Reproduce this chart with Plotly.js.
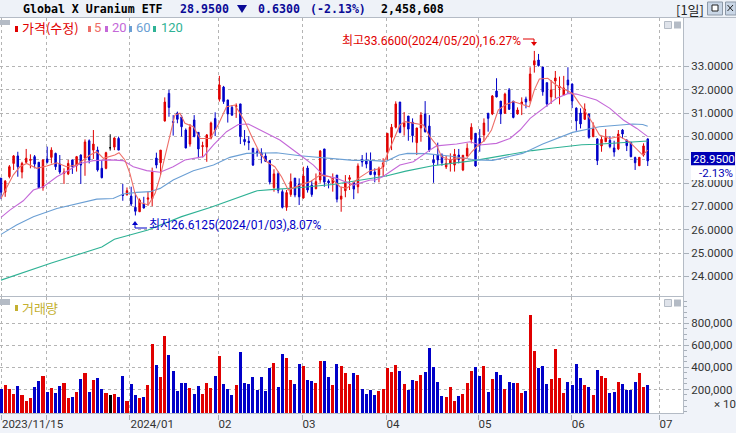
<!DOCTYPE html>
<html><head><meta charset="utf-8">
<script src="https://cdn.plot.ly/plotly-3.0.1.min.js"></script>
<style>html,body{margin:0;padding:0;background:#f0f3f9;overflow:hidden}#c{width:736px;height:433px}</style>
</head><body><div id="c"></div>
<script>
const open_=[28.21,27.61,28.27,28.84,29.16,28.47,28.89,28.97,29.13,28.89,27.80,29.03,29.10,29.27,28.81,28.41,28.39,28.99,28.74,29.20,29.07,29.81,29.41,29.41,28.63,28.63,29.51,29.54,29.91,27.51,27.50,27.44,26.96,26.77,27.10,27.31,27.33,29.07,28.87,30.66,31.84,30.64,31.00,30.83,30.27,29.67,30.70,30.17,29.56,29.54,29.93,30.76,31.59,32.11,31.56,31.24,31.27,31.39,29.87,29.79,29.49,29.34,29.30,29.16,28.96,27.81,28.40,27.63,26.96,27.51,28.21,27.96,27.36,28.64,27.91,27.76,28.13,29.46,28.09,28.01,28.34,27.31,27.67,28.16,28.03,27.84,29.01,28.99,28.94,28.47,28.34,28.70,29.34,29.96,30.39,31.47,30.41,30.87,30.61,29.73,30.36,30.96,30.44,28.99,29.20,29.20,28.69,28.84,28.77,29.20,28.56,29.16,29.87,30.13,29.91,30.06,30.99,30.96,31.94,31.51,30.99,31.99,31.51,30.96,31.39,31.60,31.53,33.06,33.27,32.97,32.30,31.69,32.37,32.07,31.77,32.41,32.24,31.21,31.00,30.73,30.96,29.99,29.89,29.59,29.77,29.83,29.50,29.46,30.27,29.84,29.74,29.09,28.74,29.20,29.89];
const high=[28.21,28.13,28.77,29.20,29.34,28.91,29.46,29.23,29.20,28.89,29.01,29.56,29.53,29.30,29.20,28.63,28.99,28.99,29.16,29.23,29.87,29.87,30.27,29.56,28.99,29.34,30.09,29.96,29.99,27.96,27.81,27.84,27.56,27.34,27.41,27.63,28.66,29.30,29.41,31.67,31.99,30.91,31.06,30.91,30.34,30.53,30.91,30.17,29.77,30.10,30.63,31.03,32.59,32.16,31.56,31.34,31.41,31.39,30.27,30.01,29.49,29.49,29.49,29.30,28.99,28.59,28.49,27.73,27.70,28.41,28.21,28.20,28.70,28.74,28.10,28.41,29.41,29.46,28.16,28.41,28.34,27.84,28.34,28.34,28.03,28.84,29.20,29.30,29.31,28.63,28.70,29.06,30.13,30.53,31.50,31.47,31.04,30.87,30.77,30.36,31.04,31.51,30.91,29.24,29.73,29.27,29.16,29.27,29.46,29.46,29.20,29.70,30.56,30.13,30.31,30.77,30.99,31.77,32.49,31.51,31.87,32.07,31.51,31.24,31.67,31.70,32.96,33.66,33.53,32.97,32.30,32.41,32.80,32.56,32.59,32.96,32.27,31.24,31.20,31.41,30.96,30.60,29.91,29.99,30.31,30.01,29.81,30.27,30.31,29.87,29.77,29.13,29.10,29.70,29.91];
const low=[27.31,27.41,28.20,28.56,28.27,28.20,28.84,28.63,28.63,27.80,27.67,28.84,28.84,28.56,28.39,27.96,28.34,28.39,28.49,27.96,28.31,28.84,29.03,28.49,28.20,28.59,29.39,29.41,29.41,27.24,27.46,27.01,26.61,26.77,26.91,27.03,27.01,28.63,28.34,30.63,30.84,30.03,30.56,29.99,29.49,29.56,29.96,29.06,29.10,28.91,29.87,30.01,31.49,31.39,30.59,30.87,30.79,29.67,29.61,29.41,28.73,29.13,28.84,28.90,27.94,27.63,27.56,26.91,26.81,27.41,27.39,27.06,27.33,27.59,27.41,27.73,28.01,27.84,27.77,27.63,27.17,26.77,27.39,27.70,27.31,27.56,28.70,28.63,28.34,28.03,28.03,28.27,28.99,29.41,30.34,30.13,30.03,29.81,29.74,29.20,29.77,30.16,29.34,28.01,28.77,28.74,28.60,28.49,28.49,28.84,28.51,29.13,29.70,28.70,29.34,29.77,30.20,30.91,31.67,30.53,30.96,31.13,30.77,30.93,30.91,31.20,31.41,32.73,32.99,31.74,31.27,31.39,31.63,31.37,31.77,31.84,31.21,30.24,30.34,30.70,29.90,29.96,28.77,29.34,29.77,29.49,29.13,29.41,29.91,29.37,29.10,28.56,28.73,29.13,28.73];
const close_=[27.61,28.08,28.70,29.16,28.70,28.84,29.06,29.01,28.81,27.80,28.99,28.89,29.41,28.70,28.47,28.47,28.84,28.70,29.13,28.77,29.76,28.99,29.67,28.56,28.23,29.30,29.51,29.93,29.41,27.47,27.67,27.10,26.79,27.27,26.93,27.36,28.47,28.77,29.41,31.47,31.24,30.59,30.73,30.41,29.50,30.39,29.99,29.46,29.60,30.06,30.57,30.27,32.20,31.49,30.96,30.91,31.31,29.99,29.77,29.73,28.77,29.30,29.19,28.93,28.04,28.39,27.69,26.96,27.59,28.06,27.49,27.41,28.30,27.70,27.51,28.06,29.37,28.04,28.01,28.19,27.31,27.44,28.06,28.23,27.74,28.73,28.90,28.81,28.36,28.36,28.63,28.86,30.13,30.39,31.39,30.17,30.57,30.31,30.03,30.36,30.91,30.20,29.41,28.87,28.99,28.87,28.84,29.01,29.23,29.01,29.19,29.49,30.39,28.73,29.63,30.57,30.77,31.73,31.69,30.96,31.81,31.16,30.81,31.13,31.47,31.47,32.67,33.24,33.03,31.91,31.39,31.99,32.50,32.14,32.07,32.20,31.51,30.66,30.53,31.16,29.96,30.33,28.96,29.87,29.96,29.56,29.33,30.10,30.10,29.60,29.13,28.87,29.10,29.59,28.95];
const volume=[200,239,203,158,230,148,94,121,221,276,321,176,212,167,230,258,121,130,176,294,348,176,285,303,203,167,148,158,130,321,94,248,148,121,130,239,612,421,312,685,512,367,185,258,258,212,158,230,158,258,212,321,503,248,203,148,239,539,258,248,312,194,312,185,394,439,221,521,485,285,248,430,412,285,276,258,458,458,312,239,430,412,348,248,348,330,203,158,194,148,185,203,394,358,421,367,248,194,285,276,330,358,576,403,267,139,130,221,94,139,158,258,367,403,321,412,176,294,358,330,203,267,258,258,167,185,876,548,394,412,248,294,567,303,167,267,239,430,303,239,221,148,376,321,303,167,176,267,248,194,194,267,348,221,239];
const ma5X=[0,1.3,2.9,4.5,6.1,8.5,10.9,13.3,15.6,18,19.6,21.2,22.8,24.4,27.1,28.1,29.5,30.7,31.9,33.1,35.1,36.7,37.9,39,40.2,41.4,42.6,43.8,45.8,47.4,49.8,51.7,53.7,55.7,56.9,58.1,59.7,61.7,63.3,65.2,66.8,68.4,71.2,73.6,76,78.3,80.7,82.3,85.1,87.9,90.6,91.8,93.8,95,96.2,98.2,100.6,102.1,103.7,104.9,106.9,108.5,110.9,112.1,113.3,115.2,116.8,118.4,120,122,123.6,125.8,127,128.2,130.2,132.2,134.5,136.1,137.7,138.9,140.9,142.5,144.9,147.3,149.6,151.6,152.8,154];
const ma5Y=[27.34,27.77,28.34,28.70,28.84,28.63,28.73,28.87,28.70,28.77,28.99,29.20,29.34,29.06,29.20,29.30,28.99,28.41,27.56,27.16,27.06,27.56,28.27,29.13,29.99,30.91,30.99,30.56,30.41,29.91,29.91,30.49,31.27,31.34,30.99,30.63,29.99,29.27,28.91,28.70,28.27,27.70,27.91,28.06,28.34,28.27,27.84,27.77,28.20,28.53,28.63,29.13,29.99,30.49,30.63,30.56,30.49,29.99,29.63,29.13,28.99,29.06,29.06,29.34,29.56,29.84,30.27,31.13,31.34,31.49,31.41,31.27,31.99,32.46,32.49,32.20,31.99,31.84,31.41,31.13,30.56,30.06,29.91,29.99,29.77,29.41,29.20,29.41];
const ma20X=[0,2.1,5.3,7.7,10.1,13.3,15.6,18.8,22,26,29.1,31.5,34.7,37.9,41,43.8,48.2,50.6,53.7,56.5,58.9,63.3,66.4,71.2,74.4,76.7,79.9,83.9,87.9,89.1,90.9,95,98.2,102.1,103.7,108.5,111.7,114,118,121.2,123.6,126,129.1,132.3,135.1,137,141.8,145,148.2,151.4,154];
const ma20Y=[26.53,26.84,27.24,27.70,27.84,28.27,28.49,28.84,28.96,28.99,28.96,28.70,28.53,28.46,28.70,28.99,29.13,29.63,30.20,30.51,30.53,30.13,29.84,29.20,28.77,28.34,28.20,27.91,28.13,28.13,28.27,28.77,28.91,29.41,29.59,29.67,29.77,29.63,29.70,29.91,30.27,30.77,31.20,31.63,31.84,31.81,31.56,31.20,30.70,30.34,29.99];
const ma60X=[0,3.7,7.7,13.3,22.8,26.7,29.1,32.3,35.5,37.9,41,45.8,50.6,54.5,58.5,65.6,71.2,79.1,83.9,87.9,91.7,94.8,96.8,101.2,106.8,113.1,117.1,124.2,129,136.1,142.5,150.4,152.8,154];
const ma60Y=[25.80,26.20,26.56,26.91,27.31,27.34,27.53,27.60,27.63,27.77,28.13,28.53,28.77,29.10,29.27,29.30,29.17,29.06,28.97,28.97,28.93,29.20,29.27,29.26,29.16,28.99,28.97,29.27,29.67,30.17,30.41,30.53,30.51,30.43];
const ma120X=[0,12,24,27,35,43,50,55,61,65,70,79,87,91.7,96.4,102.8,113,120.2,126.5,131,138.3,142,154];
const ma120Y=[23.84,24.57,25.26,25.59,25.99,26.56,26.96,27.27,27.67,27.73,27.79,27.94,28.17,28.30,28.51,28.74,28.97,29.20,29.39,29.49,29.64,29.66,29.80];
const priceTicks=[24,25,26,27,28,29,30,31,32,33];
const priceLabels=["24.0000","25.0000","26.0000","27.0000","28.0000","","30.0000","31.0000","32.0000","33.0000"];
const volumeTicks=[200,400,600,800];
const monthPos=[0.1,10.9,30.7,51.7,71.7,91.7,113.6,135.8,156.7];
const monthLabels=["2023/11/15","","2024/01","02","03","04","05","06","07"];

const RED="#e00000",BLUE="#0000c8",BLACK="#000000";
const C5="#ee6e68",C20="#c468d8",C60="#6b9fd4",C120="#2fb295";
const W=736,H=433;
const px=x=>x/W, py=y=>1-y/H;
const TXT='Roboto,"Noto Sans CJK KR",sans-serif';
const xs=close_.map((_,i)=>i);
const barColor=close_.map((c,i)=>c>open_[i]?RED:(c<open_[i]?BLUE:BLACK));
const volBase=-18;
const isDoji=xs.filter(i=>close_[i]===open_[i]);
const notDoji=xs.filter(i=>close_[i]!==open_[i]);
const pick=(a,idx)=>idx.map(i=>a[i]);
const candle=(idx,inc,dec)=>({type:"candlestick",x:idx,open:pick(open_,idx),high:pick(high,idx),low:pick(low,idx),close:pick(close_,idx),
  xaxis:"x",yaxis:"y",whiskerwidth:0,hoverinfo:"skip",showlegend:false,
  increasing:{line:{color:inc,width:1},fillcolor:inc},decreasing:{line:{color:dec,width:1},fillcolor:dec}});
const line=(x,y,c)=>({type:"scatter",mode:"lines",x,y,xaxis:"x",yaxis:"y",line:{color:c,width:1.1},hoverinfo:"skip",showlegend:false});
const data=[
 candle(notDoji,RED,BLUE),
 candle(isDoji,BLACK,BLACK),
 line(ma120X,ma120Y,C120),line(ma60X,ma60Y,C60),line(ma20X,ma20Y,C20),line(ma5X,ma5Y,C5),
 {type:"bar",x:xs,y:volume.map(v=>v-volBase),base:volBase,width:0.72,xaxis:"x2",yaxis:"y2",marker:{color:barColor,line:{width:0}},hoverinfo:"skip",showlegend:false}
];
const note=(x,y,text,color,size,extra)=>Object.assign({xref:"paper",yref:"paper",x:px(x),y:py(y),text,showarrow:false,xanchor:"left",yanchor:"middle",
  font:{family:TXT,size:size||11.5,color:color||"#000"},borderpad:0},extra||{});
const rect=(x0,y0,x1,y1,fill,ln)=>({type:"rect",xref:"paper",yref:"paper",x0:px(x0),x1:px(x1),y0:py(y0),y1:py(y1),fillcolor:fill,line:{width:ln?1:0,color:ln||fill},layer:"above"});
const seg=(x0,y0,x1,y1,c)=>({type:"line",xref:"paper",yref:"paper",x0:px(x0),x1:px(x1),y0:py(y0),y1:py(y1),line:{width:1,color:c},layer:"above"});
const tri=(path,c)=>({type:"path",path,xref:"paper",yref:"paper",fillcolor:c,line:{width:0},layer:"above"});
const triPath=(a)=>"M"+a.map(p=>px(p[0])+","+py(p[1])).join("L")+"Z";
const TITLEF='"DejaVu Sans Mono","Noto Sans CJK KR",monospace';
const hdr=(x,text,c)=>({xref:"paper",yref:"paper",x:px(x),y:py(9),text:"<b>"+text+"</b>",showarrow:false,xanchor:"left",yanchor:"middle",font:{family:TITLEF,size:11.6,color:c}});
const KR='"Noto Sans CJK KR",sans-serif';
const tickF={family:TXT,size:11.5,color:"#333"};
const layout={
 width:W,height:H,margin:{l:0,r:0,t:0,b:0,pad:0},paper_bgcolor:"#f0f3f9",plot_bgcolor:"#ffffff",showlegend:false,
 boxgap:0.5,bargap:0,barmode:"overlay",
 xaxis:{domain:[0,683/W],range:[-0.238,162.4],anchor:"y",tickmode:"array",tickvals:monthPos,showticklabels:false,ticks:"",showgrid:true,griddash:"dot",gridcolor:"#b4b4b4",gridwidth:1,zeroline:false,showline:false,rangeslider:{visible:false},fixedrange:true},
 yaxis:{domain:[py(296),py(18)],range:[23.16,35.07],side:"right",anchor:"x",tickmode:"array",tickvals:priceTicks,ticktext:priceLabels,ticks:"outside",ticklen:5,tickcolor:"#a8b0ba",tickfont:tickF,showgrid:true,griddash:"dot",gridcolor:"#b4b4b4",zeroline:false,showline:false,fixedrange:true},
 xaxis2:{domain:[0,683/W],range:[-0.238,162.4],anchor:"y2",tickmode:"array",tickvals:monthPos,ticktext:monthLabels,ticklabelposition:"outside right",ticks:"outside",ticklen:5,tickcolor:"#a8b0ba",tickfont:tickF,showgrid:true,griddash:"dot",gridcolor:"#b4b4b4",zeroline:false,showline:false,fixedrange:true},
 yaxis2:{domain:[py(413.5),py(297)],range:[volBase,1039],side:"right",anchor:"x2",tickmode:"array",tickvals:volumeTicks,ticktext:volumeTicks.map(v=>v+",000"),ticks:"outside",ticklen:5,tickcolor:"#a8b0ba",tickfont:tickF,showgrid:true,griddash:"dot",gridcolor:"#b4b4b4",zeroline:false,showline:false,fixedrange:true,
   minor:{ticks:"outside",ticklen:3,tickcolor:"#a8b0ba",dtick:50,showgrid:false}},
 shapes:[
  rect(0,0,736,17,"#eef2f8"),seg(0,17.5,736,17.5,"#b4bbc5"),seg(0,296.5,683,296.5,"#b4bbc5"),seg(0,413.5,683,413.5,"#b4bbc5"),seg(683.5,18,683.5,414,"#b4bbc5"),
  rect(0,20,10,25,"#b4bbc5"),rect(0,299,10,305,"#b4bbc5"),
  rect(15,26,18,32,RED),rect(88,26,91,32,C5),rect(105,26,108,32,C20),rect(129,26,132,32,C60),rect(153,26,156,32,C120),
  rect(15,305,18,311,"#c4b030"),
  rect(664.5,21.5,671.5,28.5,"#dfe3ea","#b4bbc5"),rect(674,21.5,681,28.5,"#b4bbc5"),
  rect(664.5,299.5,671.5,306.5,"#dfe3ea","#b4bbc5"),rect(674,299.5,681,306.5,"#b4bbc5"),
  rect(707.5,2,722.5,15,"#c9d6e6","#8d99a8"),rect(725.5,2,736,15,"#c9d6e6","#8d99a8"),
  rect(712,5,718,11,"#ffffff","#222222"),
  rect(691,152,735,165.5,"#0000b4"),rect(691,165.5,735,180,"#ffffff"),
  seg(523,39,534,39,RED),seg(534,39,534,44,RED),tri(triPath([[531,42],[537,42],[534,46]]),RED),
  seg(135,228,147,228,BLUE),seg(135,228,135,223,BLUE),tri(triPath([[132,225],[138,225],[135,221]]),BLUE),
  tri(triPath([[237,5],[247,5],[242,13]]),"#0a0a96"),
  seg(727.5,5,733,11,"#222"),seg(733,5,727.5,11,"#222")
 ],
 annotations:[
  hdr(21,"Global X Uranium ETF","#000"),hdr(178,"28.9500","#0a0a96"),hdr(256,"0.6300","#0a0a96"),hdr(308,"(-2.13%)","#0a0a96"),hdr(379,"2,458,608","#000"),
  {xref:"paper",yref:"paper",x:px(674),y:py(9),text:"[1일]",showarrow:false,xanchor:"left",yanchor:"middle",font:{family:KR,size:13,color:"#222"}},
  note(21,28,"가격(수정)",RED,13,{font:{family:KR,size:13,color:RED}}),
  note(93,28,"5",C5,13),note(111,28,"20",C20,13),note(135,28,"60",C60,13),note(160,28,"120",C120,13),
  note(21,307,"거래량","#c4b030",13,{font:{family:KR,size:13,color:"#c4b030"}}),
  note(341,41,"최고33.6600(2024/05/20),16.27%",RED,12),
  note(148,225,"최저26.6125(2024/01/03),8.07%",BLUE,12),
  note(692,159,"28.9500","#ffffff",11.5),
  note(698,172.5,"-2.13%","#0000b4",11.5),
  note(713,404,"× 10","#333",11.5)
 ]
};
Plotly.newPlot("c",data,layout,{displayModeBar:false,staticPlot:true});
</script></body></html>
